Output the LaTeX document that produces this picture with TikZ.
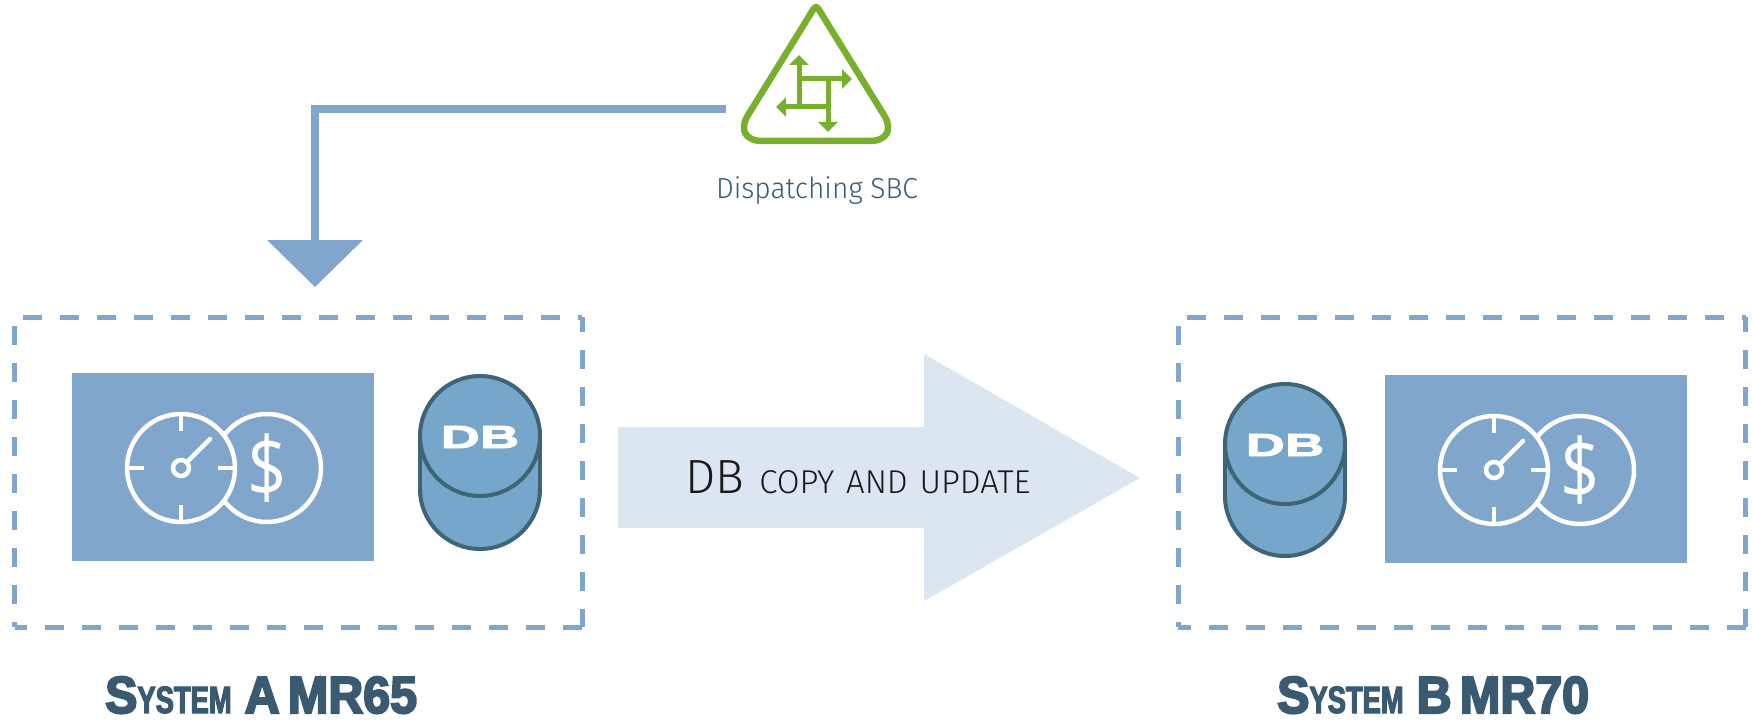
\documentclass[tikz,border=0pt]{standalone}
\usepackage{fontspec}
\usepackage{graphicx}
\usetikzlibrary{arrows.meta}
\newfontfamily\thinfont{Fira Sans}[UprightFont=* Light]
\newfontfamily\sbcfont{Fira Sans}[UprightFont=* Light,FakeStretch=0.97]
\newfontfamily\heavyfont{Liberation Sans}[UprightFont=* Bold,FakeStretch=0.93,FakeBold=4]
\newfontfamily\heavysmallfont{Liberation Sans}[UprightFont=* Bold,FakeStretch=0.72,FakeBold=3]
\newfontfamily\logofont{Liberation Sans}[UprightFont=* Bold,FakeStretch=1.7,FakeBold=3]
\newfontfamily\moneyfont{Open Sans}[FakeStretch=0.82]
\definecolor{boxblue}{HTML}{80A6CC}
\definecolor{cylblue}{HTML}{76A6C9}
\definecolor{cylline}{HTML}{3E6478}
\definecolor{palearrow}{HTML}{DCE6F0}
\definecolor{sbcgreen}{HTML}{78B02E}
\definecolor{titleblue}{HTML}{3A5A72}
\tikzset{
  dashside/.style={draw=boxblue,line width=5pt,dash pattern=on 19pt off 18pt,dash phase=#1},
  dashframe/.pic={
    \draw[dashside=28.2] (0,0) -- (567.5,0);
    \draw[dashside=28.2] (0,0) -- (0,310);
    \draw[dashside=4] (567.5,0) -- (567.5,310);
    \draw[dashside=0] (567.5,310) -- (0,310);
  },
  panel/.style={fill=boxblue},
  iconline/.style={draw=white,line width=4.5pt},
  cylstroke/.style={draw=cylline,line width=4pt},
  sbcarrow/.style={draw=sbcgreen,line width=5pt,-{Triangle[length=10pt,width=19pt]}},
  titletext/.style={text=titleblue,anchor=base west,inner sep=0pt,font=\heavyfont\fontsize{52}{52}\selectfont},
  timecost/.pic={
    \draw[iconline] (86,0) circle (54);
    \node[text=white,inner sep=0pt,font=\moneyfont\fontsize{84}{84}\selectfont] at (86,0) {\$};
    \draw[iconline,fill=boxblue] (0,0) circle (54);
    \draw[iconline] (0,-55) -- (0,-37) (0,55) -- (0,37) (-55,0) -- (-37,0) (55,0) -- (37,0);
    \draw[iconline,line cap=round] (6,-6) -- (29,-29);
    \draw[iconline] (0,0) circle (8);
  },
  dbcyl/.pic={
    \draw[cylstroke,fill=cylblue] (0,#1) circle (60);
    \fill[cylblue] (-60,0) rectangle (60,#1);
    \draw[cylstroke] (-60,0) -- (-60,#1) (60,0) -- (60,#1);
    \draw[cylstroke,fill=cylblue] (0,0) circle (60);
    \node[text=white,inner sep=0pt,font=\logofont\fontsize{32}{32}\selectfont] at (0,1) {DB};
  }
}
\begin{document}
\begin{tikzpicture}[x=1pt,y=-1pt]
\useasboundingbox (0,0) rectangle (1752,722);
% dispatcher
\draw[draw=sbcgreen,line width=6.5pt,line join=round,rounded corners=4pt] (816,5)
  [rounded corners=30pt] -- (732,141) -- (900,141) [rounded corners=4pt] -- cycle;
\draw[sbcarrow] (799,108) -- (799,55);
\draw[sbcarrow] (796.5,79) -- (852,79);
\draw[sbcarrow] (830.5,107) -- (776,107);
\draw[sbcarrow] (828,79) -- (828,132);
\node (sbclabel) [text=titleblue,inner sep=0pt,font=\sbcfont\fontsize{29}{29}\selectfont] at (817,191) {Dispatching SBC};
% connector
\coordinate (dispw) at (726,109);
\coordinate (tipa) at (315,287);
\draw[draw=boxblue,line width=8.5pt,-{Triangle[length=47pt,width=94pt]}] (dispw) -| (tipa);
% boxes
\pic at (14.5,317) {dashframe};
\pic at (1178,317) {dashframe};
\fill[panel] (72,373) rectangle (374,561);
\fill[panel] (1385,375) rectangle (1687,563);
\pic at (181,468) {timecost};
\pic at (1494,470) {timecost};
\pic at (480,436) {dbcyl=53};
\pic at (1285,444) {dbcyl=52};
% big arrow
\fill[palearrow] (618,427) -- (924,427) -- (924,354) -- (1140,478) -- (924,601) -- (924,528) -- (618,528) -- cycle;
\node (copytext) [text=black!90,anchor=base west,inner sep=0pt,font=\thinfont\fontsize{48}{48}\selectfont] at (685,493)
  {DB\hspace{15pt}{\fontsize{33}{33}\selectfont COPY\hspace{2.5pt} AND\hspace{2.5pt} UPDATE}};
% titles
\node (titlea) [titletext] at (105,713) {S{\heavysmallfont\fontsize{38}{38}\selectfont YSTEM}\hspace{13pt}A\hspace{-5pt} MR65};
\node (titleb) [titletext] at (1277,713) {S{\heavysmallfont\fontsize{38}{38}\selectfont YSTEM}\hspace{13pt}B\hspace{-5pt} MR70};
\end{tikzpicture}
\end{document}
